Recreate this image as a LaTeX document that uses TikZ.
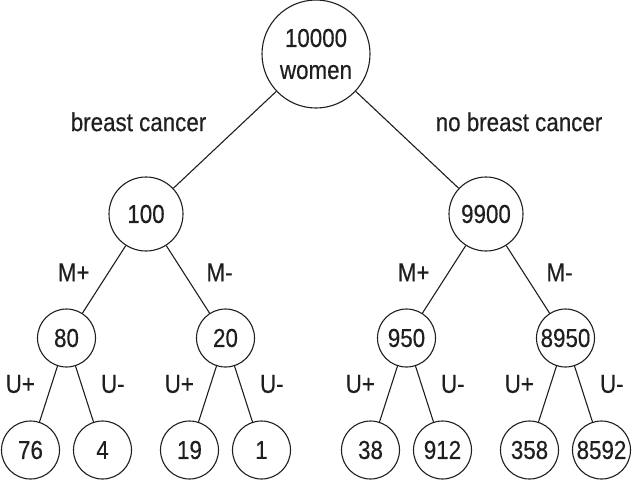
\documentclass[tikz,border=0pt]{standalone}
\usepackage{fontspec}
\newfontfamily\treefont[FakeStretch=0.86,FakeBold=0.35]{Liberation Sans}
\usepackage{tikz}
\colorlet{ink}{black!88}
\tikzset{
	treenode/.style = {align=center, inner sep=0pt, text centered, text=ink,
		font={\treefont\fontsize{26}{32}\selectfont}},
	root_n/.style = {treenode, circle, draw=ink, line width=1.1pt, minimum size=108pt},% racine
	mid_n/.style = {treenode, circle, draw=ink, line width=1.1pt, minimum size=74pt},% niveau 1
	leaf_n/.style = {treenode, circle, draw=ink, line width=1.1pt, minimum size=58pt},% niveaux 2 et 3
	lbl/.style = {treenode, midway}% etiquette d'arete
}

\begin{document}
\begin{tikzpicture}[edge from parent/.style={draw=ink, line width=1.1pt},
	level 1/.style={sibling distance = 340pt, level distance = 160pt},
	level 2/.style={sibling distance = 159pt, level distance = 124pt},
	level 3/.style={sibling distance = 72pt, level distance = 112pt}]
\useasboundingbox (0,0) rectangle (632pt,-480pt);
\node [root_n] (women) at (316pt,-54pt) {10000\\women}
child{ node [mid_n] (bc) {100}
	child{ node [leaf_n] (bcmp) {80}
		child{ node [leaf_n] (bcmpup) {76}
			edge from parent node [lbl, left=13pt, yshift=10pt] {U+}
		}
		child{ node [leaf_n] (bcmpum) {4}
			edge from parent node [lbl, right=16pt, yshift=10pt] {U-}
		}
		edge from parent node [lbl, left=14pt, yshift=7pt] {M+}
	}
	child{ node [leaf_n] (bcmm) {20}
		child{ node [leaf_n] (bcmmup) {19}
			edge from parent node [lbl, left=13pt, yshift=10pt] {U+}
		}
		child{ node [leaf_n] (bcmmum) {1}
			edge from parent node [lbl, right=16pt, yshift=10pt] {U-}
		}
		edge from parent node [lbl, right=18pt, yshift=7pt] {M-}
	}
	edge from parent node [lbl, left=18pt, yshift=18pt] {breast cancer}
}
child{ node [mid_n] (nbc) {9900}
	child{ node [leaf_n] (nbcmp) {950}
		child{ node [leaf_n] (nbcmpup) {38}
			edge from parent node [lbl, left=13pt, yshift=10pt] {U+}
		}
		child{ node [leaf_n] (nbcmpum) {912}
			edge from parent node [lbl, right=16pt, yshift=10pt] {U-}
		}
		edge from parent node [lbl, left=14pt, yshift=7pt] {M+}
	}
	child{ node [leaf_n] (nbcmm) {8950}
		child{ node [leaf_n] (nbcmmup) {358}
			edge from parent node [lbl, left=13pt, yshift=10pt] {U+}
		}
		child{ node [leaf_n] (nbcmmum) {8592}
			edge from parent node [lbl, right=16pt, yshift=10pt] {U-}
		}
		edge from parent node [lbl, right=18pt, yshift=7pt] {M-}
	}
	edge from parent node [lbl, right=28pt, yshift=18pt] {no breast cancer}
}
;
\end{tikzpicture}
\end{document}
